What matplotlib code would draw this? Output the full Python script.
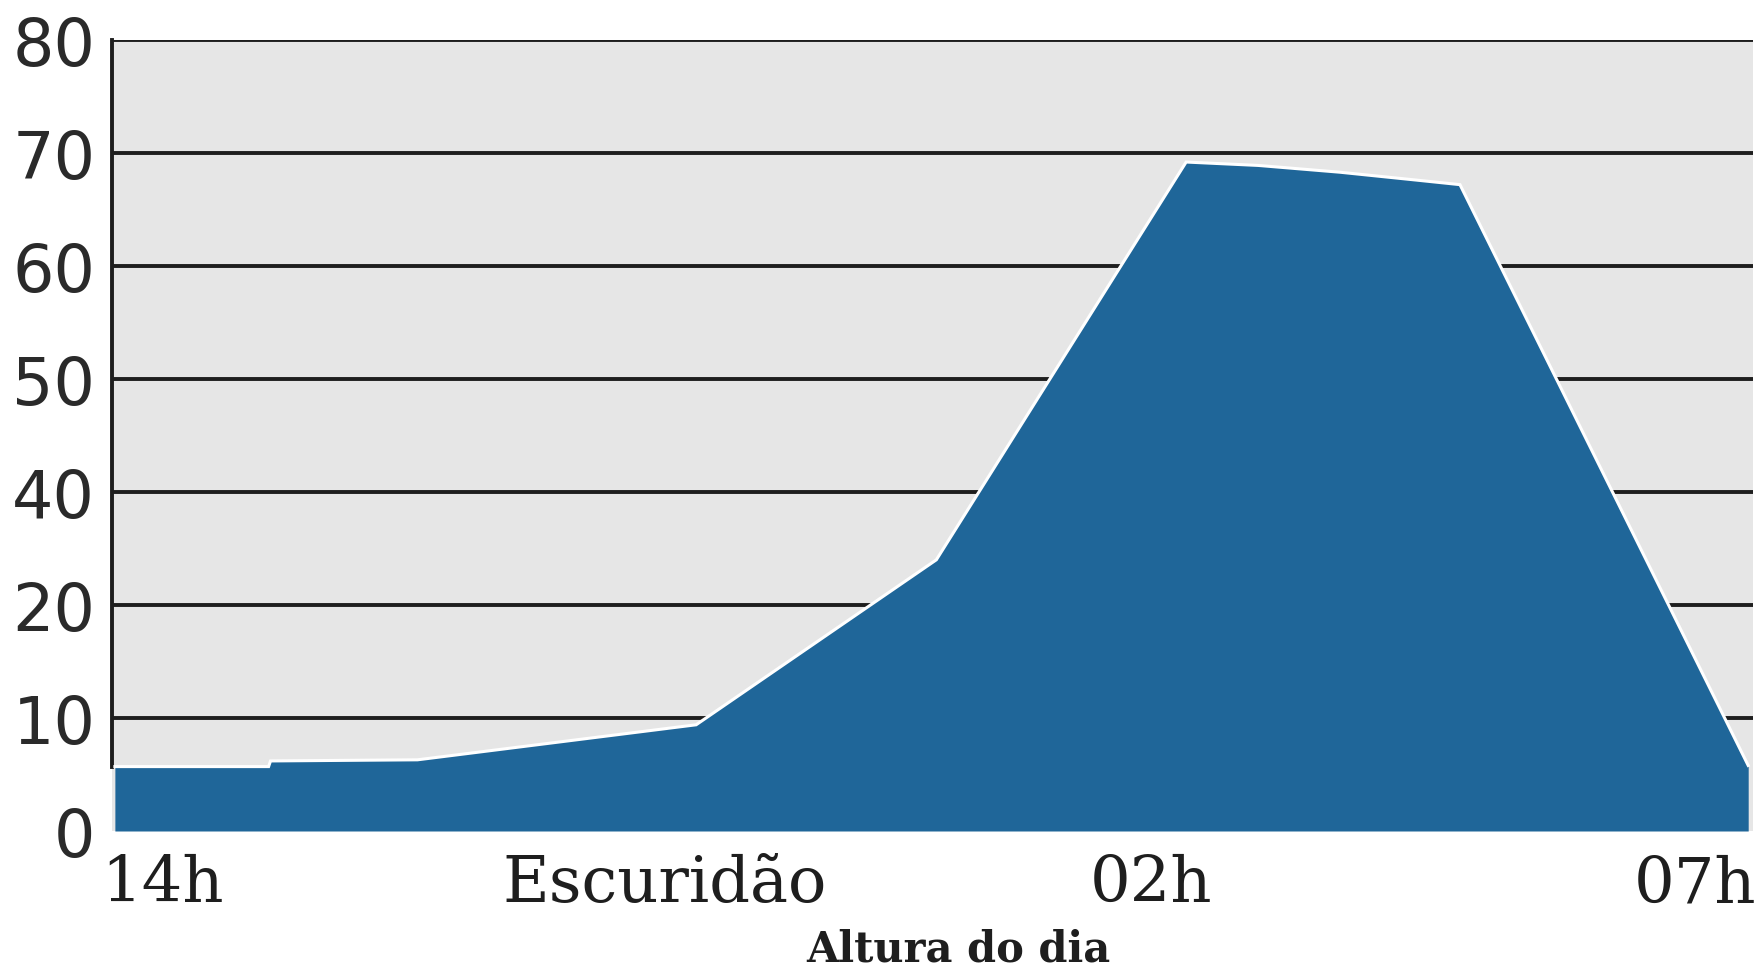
import matplotlib.pyplot as plt

# hours after 14h, and height of the area in axis units (the y labels skip 30)
hours = [0, 1.6, 1.62, 3.15, 6.05, 8.55, 11.15, 11.9, 12.75, 13.55, 14.0, 17.0]
level = [5.7, 5.7, 6.2, 6.3, 9.4, 24.0, 59.2, 58.9, 58.3, 57.6, 57.2, 5.8]

ytick_pos = [0, 10, 20, 30, 40, 50, 60, 70]
ytick_labels = ['0', '10', '20', '40', '50', '60', '70', '80']
xtick_pos = [0.5, 5.72, 10.78, 16.45]
xtick_labels = ['14h', 'Escuridão', '02h', '07h']

fig = plt.figure(figsize=(17.56, 9.70), dpi=100)
ax = fig.add_axes([112/1756, 1 - 832/970, 1641/1756, 791/970])
ax.set_facecolor('#e6e6e6')

for y in ytick_pos[1:]:
    ax.axhline(y, color='#1e1e1e', lw=2.8, zorder=1)

ax.fill_between(hours, level, 0, color='#1f6699', lw=0, zorder=2)
ax.plot(hours, level, color='white', lw=2.2, zorder=3, solid_joinstyle='miter')

ax.set_xlim(-0.03, 17.05)
ax.set_ylim(0, 70)

for s in ['top', 'right', 'bottom']:
    ax.spines[s].set_visible(False)
ax.spines['left'].set_color('#1e1e1e')
ax.spines['left'].set_linewidth(2.8)
ax.spines['left'].set_bounds(level[0], 70)

ax.set_yticks(ytick_pos)
ax.set_yticklabels(ytick_labels, fontsize=47, color='#2a2a2a', family='DejaVu Sans')
ax.set_xticks(xtick_pos)
ax.set_xticklabels(xtick_labels, fontsize=46, color='#1e1e1e', family='DejaVu Serif')
ax.tick_params(axis='y', length=0, pad=12)
ax.tick_params(axis='x', length=0, pad=16)

fig.text(958/1756, 1 - 950/970, 'Altura do dia', ha='center', va='center',
         fontsize=30, family='DejaVu Serif', fontweight='bold', color='#1e1e1e')

fig.savefig('out.png', dpi=100)
